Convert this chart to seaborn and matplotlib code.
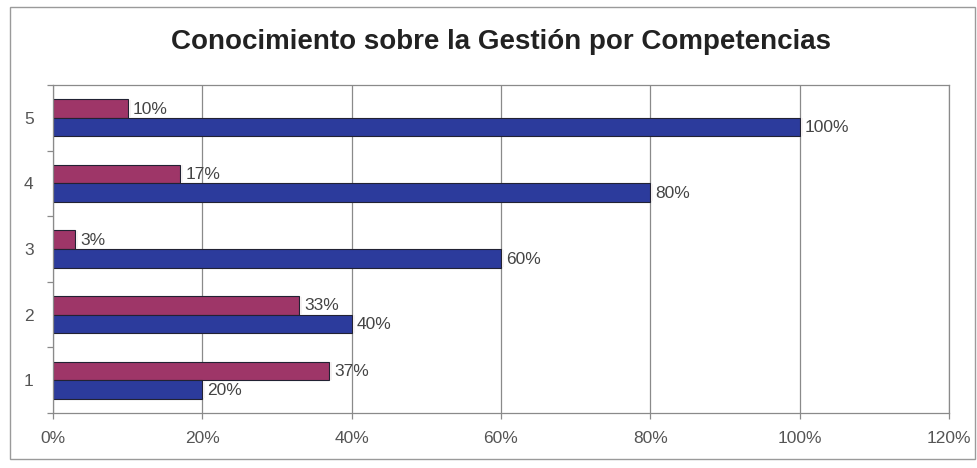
import matplotlib
matplotlib.use("Agg")
import matplotlib.pyplot as plt
import seaborn as sns
import pandas as pd
from matplotlib.patches import Rectangle
from matplotlib.ticker import FuncFormatter

categories = ["5", "4", "3", "2", "1"]
serie_a = [10, 17, 3, 33, 37]
serie_b = [100, 80, 60, 40, 20]
series_names = ["Serie A", "Serie B"]
xticks = [0, 20, 40, 60, 80, 100, 120]

df = pd.DataFrame({
    "cat": categories * 2,
    "valor": serie_a + serie_b,
    "serie": [series_names[0]] * len(categories) + [series_names[1]] * len(categories),
})

sns.set_theme(style="white")
plt.rcParams["font.family"] = ["Liberation Sans", "DejaVu Sans"]

fig = plt.figure(figsize=(9.78, 4.68), dpi=100)
ax = fig.add_axes([53 / 978, 1 - 413 / 468, (949 - 53) / 978, (413 - 85) / 468])

palette = {series_names[0]: "#9e3668", series_names[1]: "#2c3b9c"}
sns.barplot(data=df, y="cat", x="valor", hue="serie", order=categories,
            hue_order=series_names, palette=palette, orient="h",
            width=0.57, gap=0, saturation=1, edgecolor="#222233",
            linewidth=0.8, legend=False, ax=ax)

# light highlight at the end of each bar
for cont in ax.containers:
    for bar in cont:
        w = bar.get_width()
        ax.plot([w + 0.25, w + 0.25], [bar.get_y() + 0.01, bar.get_y() + bar.get_height() - 0.01],
                color="#f4f0f0", linewidth=1.2, solid_capstyle="butt", zorder=3)

ax.set_xlim(0, 120)
ax.set_ylim(4.5, -0.5)
ax.set_xticks(xticks)
ax.xaxis.set_major_formatter(FuncFormatter(lambda v, p: f"{v:.0f}%"))
ax.set_xlabel("")
ax.set_ylabel("")
ax.grid(axis="x", color="#8a8a8a", linewidth=0.9)
ax.set_axisbelow(True)
for s in ax.spines.values():
    s.set_color("#8a8a8a")
    s.set_linewidth(0.9)

ax.tick_params(axis="x", colors="#555555", labelsize=12.5, length=4, width=0.9,
               direction="out", pad=9, bottom=True, color="#8a8a8a")
ax.tick_params(axis="y", colors="#555555", labelsize=12.5, length=0, pad=14)
# category separators on the value axis
ax.set_yticks([i - 0.5 for i in range(len(categories) + 1)], minor=True)
ax.tick_params(axis="y", which="minor", length=4, width=0.9, color="#8a8a8a", left=True)

for cont in ax.containers:
    for bar in cont:
        w = bar.get_width()
        ax.text(w + 0.7, bar.get_y() + bar.get_height() / 2 + 0.01, f"{w:.0f}%",
                va="center", ha="left", fontsize=12.5, color="#444444")

# title centred over the plot area
fig.text(501 / 978, 1 - 42 / 468, "Conocimiento sobre la Gestión por Competencias",
         ha="center", va="center", fontsize=20, fontweight="bold", color="#222222")

fig.patches.append(Rectangle((10 / 978, 0.02), 965 / 978, 1 - 7 / 468 - 0.02,
                             transform=fig.transFigure, fill=False,
                             edgecolor="#9a9a9a", linewidth=1.0))

fig.savefig("out.png", dpi=100)
